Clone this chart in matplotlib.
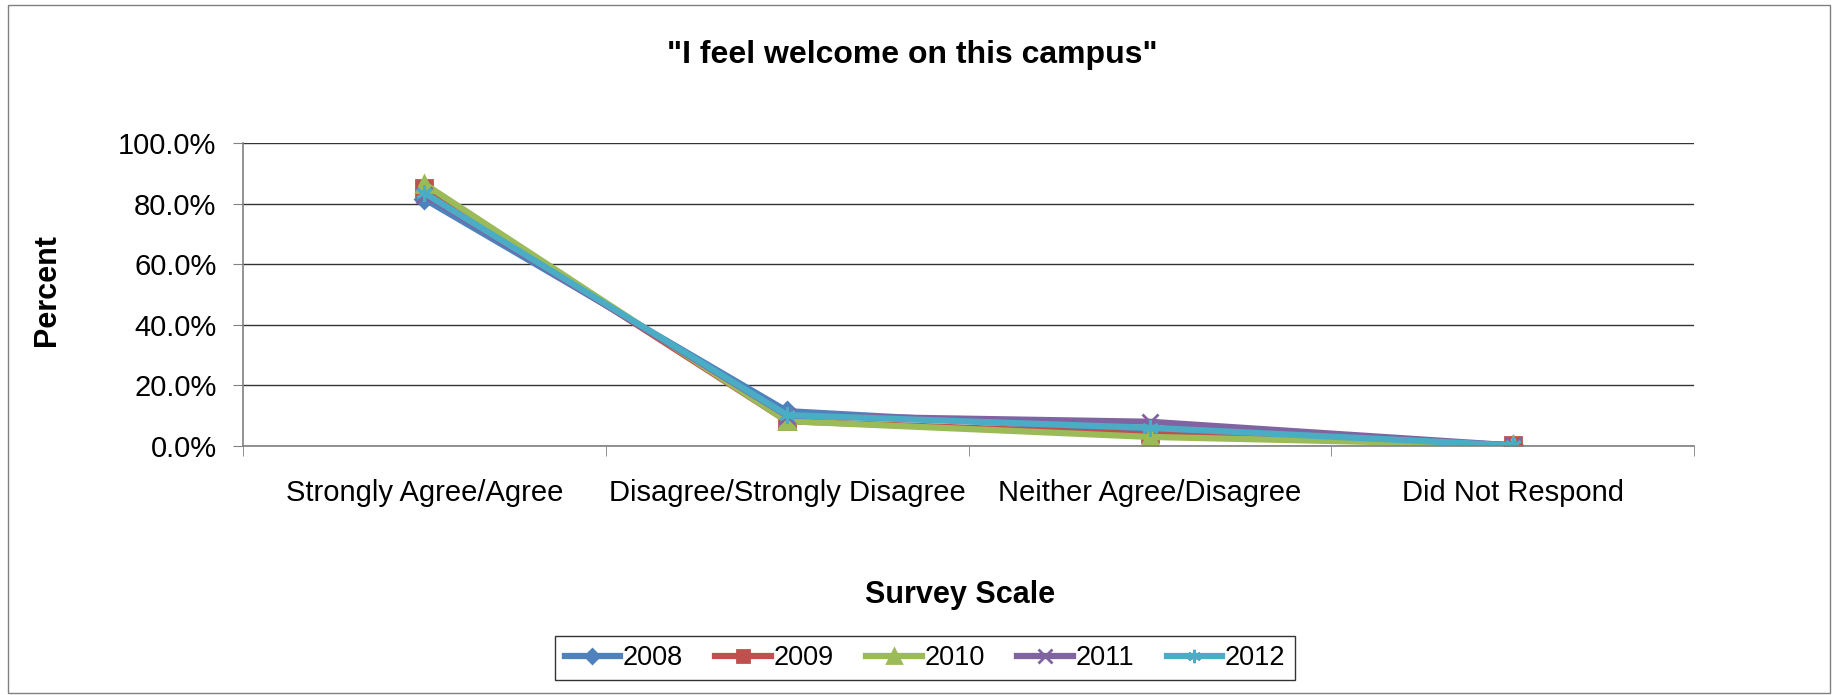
import matplotlib.pyplot as plt
from matplotlib.patches import Rectangle
from matplotlib.ticker import FuncFormatter, FixedLocator

plt.rcParams['font.family'] = ['Liberation Sans', 'DejaVu Sans']

categories = ['Strongly Agree/Agree', 'Disagree/Strongly Disagree',
              'Neither Agree/Disagree', 'Did Not Respond']
years = ['2008', '2009', '2010', '2011', '2012']
v2008 = [81.5, 11.5, 5.0, 0.3]
v2009 = [85.0, 8.2, 3.8, 0.3]
v2010 = [86.5, 8.2, 3.0, 0.3]
v2011 = [83.0, 10.0, 8.0, 0.2]
v2012 = [83.5, 10.2, 6.0, 0.2]
series = [v2008, v2009, v2010, v2011, v2012]

colors = ['#4F81BD', '#C0504D', '#9BBB59', '#8064A2', '#4BACC6']
markers = ['D', 's', '^', 'x', (6, 2, 0)]
msizes = [9, 11, 12, 12, 12]

fig = plt.figure(figsize=(18.37, 6.95), dpi=100)
ax = fig.add_axes([243 / 1837, 1 - 446 / 695, (1694 - 243) / 1837, (446 - 143) / 695])

x = list(range(len(categories)))
for vals, yr, c, m, ms in zip(series, years, colors, markers, msizes):
    ax.plot(x, vals, color=c, linewidth=4.5, marker=m, markersize=ms,
            markeredgewidth=2, markeredgecolor=c, label=yr)

ax.set_xlim(-0.5, len(categories) - 0.5)
ax.set_ylim(0, 100)
ax.yaxis.set_major_locator(FixedLocator([0, 20, 40, 60, 80, 100]))
ax.yaxis.set_major_formatter(FuncFormatter(lambda v, p: f'{v:.1f}%'))
ax.set_xticks(x)
ax.set_xticklabels(categories)
ax.set_xticks([i - 0.5 for i in range(len(categories) + 1)], minor=True)
ax.tick_params(axis='x', which='major', length=0, pad=24, labelsize=21)
ax.tick_params(axis='x', which='minor', length=7, direction='out', color='#808080')
ax.tick_params(axis='y', length=7, direction='out', color='#808080', labelsize=21, pad=12)
ax.grid(axis='y', color='#333333', linewidth=1)
ax.set_axisbelow(True)
for s in ['top', 'right']:
    ax.spines[s].set_visible(False)
ax.spines['left'].set_color('#808080')
ax.spines['bottom'].set_color('#808080')
ax.spines['left'].set_linewidth(1.2)
ax.spines['bottom'].set_linewidth(1.2)

fig.text(47 / 1837, 1 - 290 / 695, 'Percent', fontsize=22, fontweight='bold',
         rotation=90, ha='center', va='center')
fig.text(960 / 1837, 1 - 595 / 695, 'Survey Scale', fontsize=22,
         fontweight='bold', ha='center', va='center')
fig.text(912 / 1837, 1 - 55 / 695, '"I feel welcome on this campus"',
         fontsize=23, fontweight='bold', ha='center', va='center')

leg = fig.legend(loc='center', bbox_to_anchor=(925 / 1837, 1 - 658 / 695), ncol=5,
                 fontsize=19.5, frameon=True, fancybox=False, edgecolor='#000000',
                 handlelength=2.05, columnspacing=1.2, handletextpad=0.1,
                 borderpad=0.35, markerscale=0.8)
leg.get_frame().set_linewidth(1)

fig.patches.append(Rectangle((8 / 1837, 2 / 695), 1822 / 1837, 688 / 695,
                             transform=fig.transFigure, fill=False,
                             edgecolor='#808080', linewidth=1))

fig.savefig('out.png', dpi=100)
